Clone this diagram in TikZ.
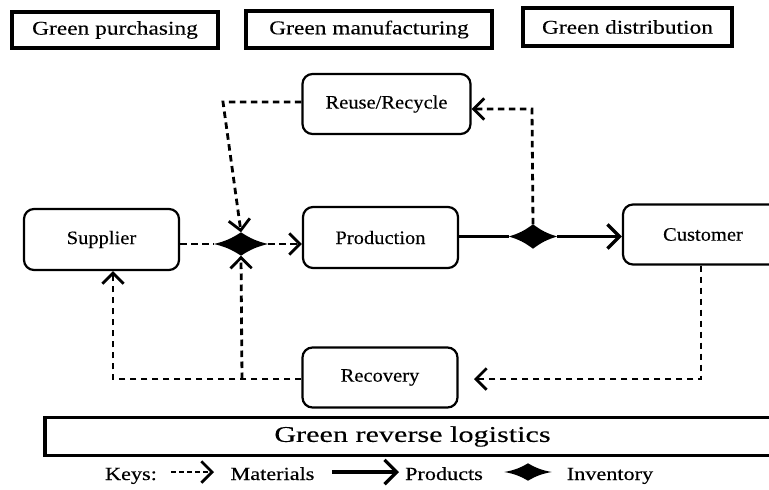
\documentclass[tikz,border=0pt]{standalone}
\usepackage{fontspec}
\setmainfont{Liberation Serif}[FakeStretch=1.2,FakeBold=0.25]
\newfontfamily\revfont{Liberation Serif}[FakeStretch=1.34,FakeBold=0.25]
\newfontfamily\boxfont{Liberation Serif}[FakeStretch=1.08,FakeBold=0.25]
\usetikzlibrary{arrows.meta,shapes.geometric}
\begin{document}
\begin{tikzpicture}[x=1pt,y=-1pt,
  topbox/.style={draw, line width=3.8pt, inner sep=0pt, font=\fontsize{19.5}{22}\selectfont},
  rbox/.style={draw, line width=2.2pt, rounded corners=10pt, inner sep=0pt, minimum width=155pt, minimum height=61pt, font=\boxfont\fontsize{19}{22}\selectfont},
  inv/.style={shape=diamond, draw=none, inner sep=0pt},
  chev/.tip={Straight Barb[scale=1.5]},
  mat/.style={line width=2.8pt, dash pattern=on 6.5pt off 4.5pt},
  matarrow/.style={mat, -chev},
  prod/.style={line width=3.3pt},
  prodarrow/.style={prod, -chev},
  keytext/.style={inner sep=0pt, anchor=base, font=\fontsize{18.5}{21}\selectfont}
]
\useasboundingbox (0,0) rectangle (769,490);
\clip (0,0) rectangle (769,490);
\fill[white] (0,0) rectangle (769,490);

% top category boxes
\node[topbox, minimum width=206pt, minimum height=36pt] (gp) at (115,30) {Green purchasing};
\node[topbox, minimum width=246pt, minimum height=37pt] (gm) at (369,29.5) {Green manufacturing};
\node[topbox, minimum width=209pt, minimum height=38pt] (gd) at (627.5,27) {Green distribution};

% process boxes
\node[rbox, minimum width=168pt, minimum height=60pt] (reuse) at (386.5,104) {Reuse/Recycle};
\node[rbox] (supplier) at (101.5,239.5) {Supplier};
\node[rbox] (production) at (380.5,237.5) {Production};
\node[rbox, minimum width=160pt, minimum height=60pt] (customer) at (703,234.5) {Customer};
\node[rbox, minimum height=60pt] (recovery) at (380,377.5) {Recovery};

% inventory diamonds
\node[inv, minimum width=54pt, minimum height=23pt] (d1) at (241,244) {};
\node[inv, minimum width=48pt, minimum height=24pt] (d2) at (533,236.5) {};
\foreach \d in {d1,d2}
  \fill (\d.west) to[bend right=10] (\d.north) to[bend right=10] (\d.east)
        to[bend right=10] (\d.south) to[bend right=10] (\d.west) -- cycle;

% helper coordinates
\coordinate (k1) at (223,102);
\coordinate (k2) at (532,109);
\coordinate (k3) at (701,379);
\coordinate (k4) at (474,379);
\coordinate (k5) at (113,379);
\coordinate (k6) at (242,379);

% material flows
\draw[mat] (supplier.east |- d1) -- (d1.west);
\draw[matarrow] (d1.east) -- (production.west |- d1);
\draw[matarrow] (reuse.west |- k1) -- (k1) -- (d1.north);
\draw[matarrow] (d2.north) -- (k2) -- (reuse.east |- k2);
\draw[matarrow] (customer.south -| k3) -- (k3) -- (k4);
\draw[matarrow] (recovery.west |- k5) -- (k5) -- (supplier.south -| k5);
\draw[matarrow] (k6) -- (d1.south);

% product flows
\draw[prod] (production.east |- d2) -- (d2.west);
\draw[prodarrow] (d2.east) -- (customer.west |- d2);

% reverse logistics bar
\node[draw, line width=3.8pt, inner sep=0pt, minimum width=735pt, minimum height=38pt,
      font=\revfont\fontsize{22.5}{26}\selectfont] (rev) at (412.5,436.5) {Green reverse logistics};

% keys
\node[keytext] (keys) at (131,480) {Keys:};
\coordinate (ka1) at (171,472);
\coordinate (ka2) at (214,472);
\draw[line width=2.8pt, dash pattern=on 5pt off 3pt, -chev] (ka1) -- (ka2);
\node[keytext] (materials) at (272.5,480) {Materials};
\coordinate (ka3) at (332,472);
\coordinate (ka4) at (399,472);
\draw[prod, -chev] (ka3) -- (ka4);
\node[keytext] (products) at (444,480) {Products};
\node[inv, minimum width=47pt, minimum height=17pt] (dk) at (528,472) {};
\fill (dk.west) to[bend right=10] (dk.north) to[bend right=10] (dk.east)
      to[bend right=10] (dk.south) to[bend right=10] (dk.west) -- cycle;
\node[keytext] (inventory) at (610,480) {Inventory};
\end{tikzpicture}
\end{document}
